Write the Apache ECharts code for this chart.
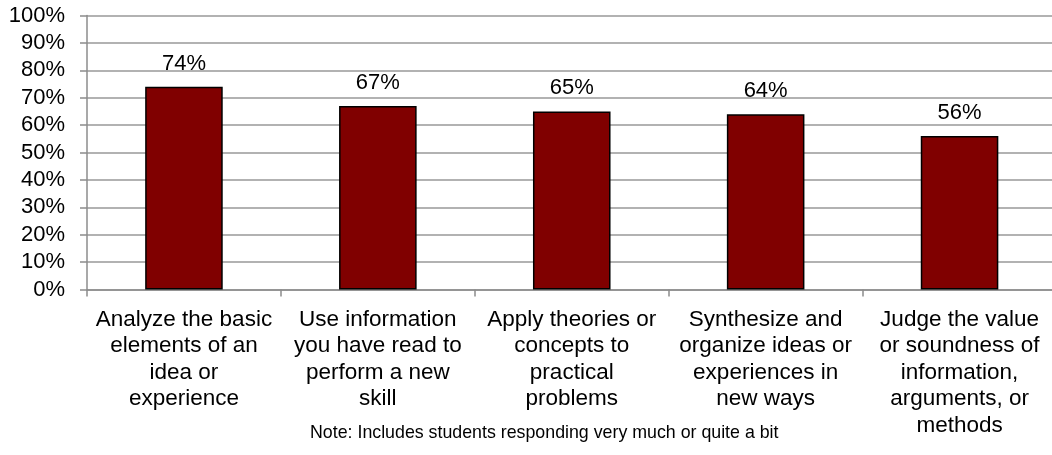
<!DOCTYPE html>
<html>
<head>
<meta charset="utf-8">
<script src="https://cdn.jsdelivr.net/npm/echarts@6/dist/echarts.min.js"></script>
<style>html,body{margin:0;padding:0;background:#fff;}#c{width:1052px;height:455px;}</style>
</head>
<body>
<div id="c"></div>
<script>
const categories = [
  "Analyze the basic\nelements of an\nidea or\nexperience",
  "Use information\nyou have read to\nperform a new\nskill",
  "Apply theories or\nconcepts to\npractical\nproblems",
  "Synthesize and\norganize ideas or\nexperiences in\nnew ways",
  "Judge the value\nor soundness of\ninformation,\narguments, or\nmethods"
];
const values = [74, 67, 65, 64, 56];
const noteText = "Note: Includes students responding very much or quite a bit";

const FONT = "'Liberation Sans', Arial, sans-serif";
const chart = echarts.init(document.getElementById('c'), null, {renderer: 'canvas'});
chart.setOption({
  animation: false,
  backgroundColor: '#fff',
  grid: {left: 87, top: 15.5, right: -4.5, height: 274, outerBoundsMode: 'none'},
  xAxis: {
    type: 'category',
    data: categories,
    axisLine: {lineStyle: {color: '#8c8c8c', width: 1.5}},
    axisTick: {show: true, alignWithLabel: false, length: 7, lineStyle: {color: '#8c8c8c', width: 1.5}},
    axisLabel: {interval: 0, margin: 17, color: '#000', fontFamily: FONT, fontSize: 22.5, lineHeight: 26.5, align: 'center'}
  },
  yAxis: {
    type: 'value',
    min: 0, max: 100, interval: 10,
    axisLine: {show: true, lineStyle: {color: '#8c8c8c', width: 1.5}},
    axisTick: {show: true, length: 7, lineStyle: {color: '#8c8c8c', width: 1.5}},
    splitLine: {show: true, lineStyle: {color: '#999', width: 1.5}},
    axisLabel: {formatter: '{value}%', margin: 22, color: '#000', fontFamily: FONT, fontSize: 22}
  },
  series: [{
    type: 'bar',
    data: values,
    barWidth: '40%',
    itemStyle: {color: '#800000', borderColor: '#000', borderWidth: 1.5},
    label: {show: true, position: 'top', distance: 12, formatter: '{c}%', color: '#000', fontFamily: FONT, fontSize: 22}
  }],
  graphic: [{
    type: 'text',
    left: 310,
    top: 424,
    style: {text: noteText, fill: '#000', font: '17.8px ' + FONT}
  }]
});
</script>
</body>
</html>
